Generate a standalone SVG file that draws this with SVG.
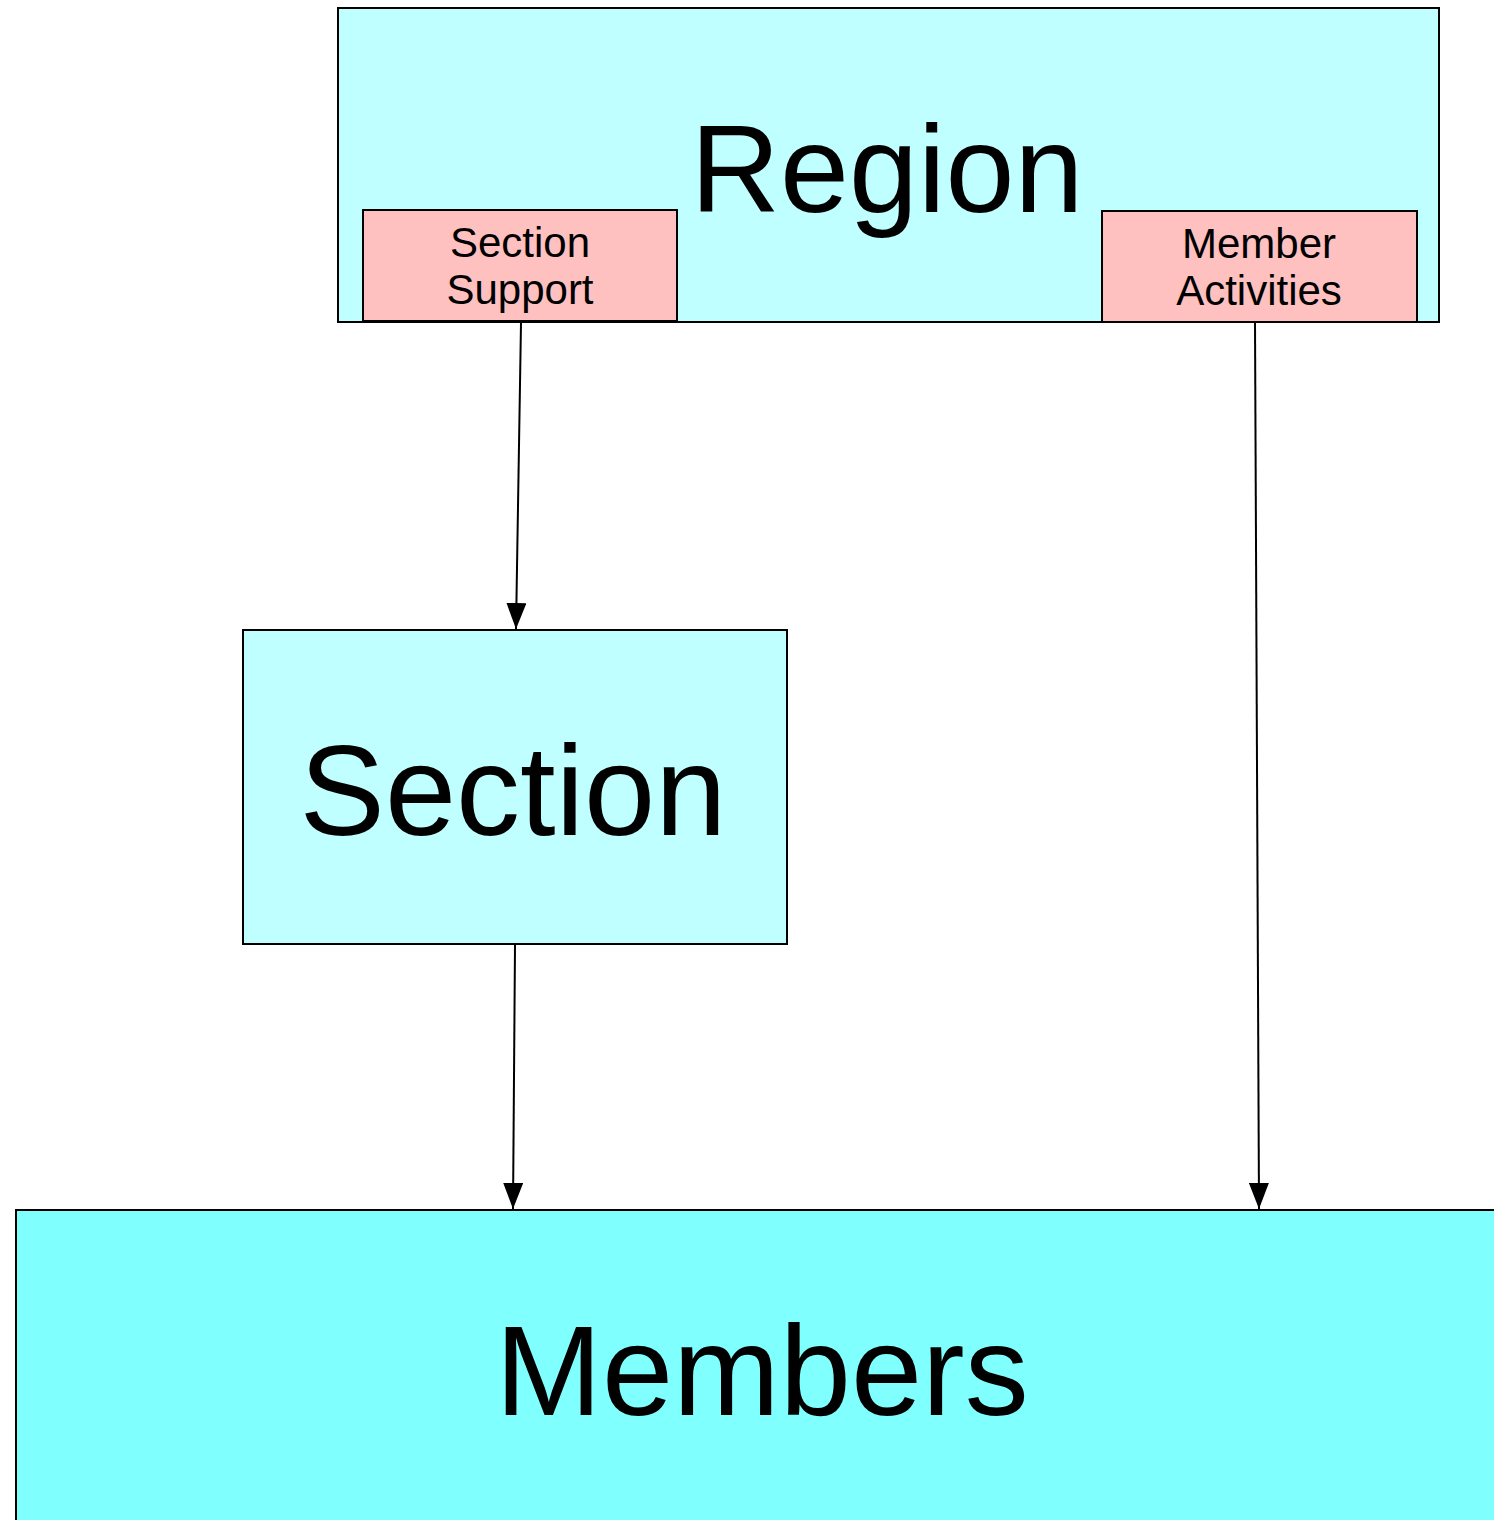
<svg xmlns="http://www.w3.org/2000/svg" width="1494" height="1520" viewBox="0 0 1494 1520">
<defs>
<style>
.box{stroke:#000;stroke-width:2}
.t{font-family:"Liberation Sans",Arial,sans-serif;fill:#000;text-anchor:middle}
.c{stroke:#000;stroke-width:2;fill:none}
</style>
<marker id="ah" markerUnits="userSpaceOnUse" markerWidth="26" markerHeight="20" refX="26" refY="10" orient="auto" viewBox="0 0 26 20">
<path d="M0,0 L26,10 L0,20 Z" fill="#000"/>
</marker>
</defs>
<rect width="1494" height="1520" fill="#fff"/>
<g id="region">
<rect class="box" x="338" y="8" width="1101" height="314" fill="#c0ffff"/>
<text class="t" x="887" y="212" font-size="124">Region</text>
</g>
<g id="section-support">
<rect class="box" x="363" y="210" width="314" height="111" fill="#ffc0c0"/>
<text class="t" x="520" y="257" font-size="42">Section</text>
<text class="t" x="520" y="304" font-size="42">Support</text>
</g>
<g id="member-activities">
<rect class="box" x="1102" y="211" width="315" height="111" fill="#ffc0c0"/>
<text class="t" x="1259" y="258" font-size="42">Member</text>
<text class="t" x="1259" y="305" font-size="42">Activities</text>
</g>
<g id="section">
<rect class="box" x="243" y="630" width="544" height="314" fill="#c0ffff"/>
<text class="t" x="513" y="835" font-size="128">Section</text>
</g>
<g id="members">
<rect class="box" x="16" y="1210" width="1490" height="320" fill="#80ffff"/>
<text class="t" x="762" y="1415" font-size="128">Members</text>
</g>
<g id="connectors">
<line class="c" x1="521" y1="323" x2="516" y2="629" marker-end="url(#ah)"/>
<line class="c" x1="515" y1="945" x2="513" y2="1209" marker-end="url(#ah)"/>
<line class="c" x1="1255" y1="323" x2="1259" y2="1209" marker-end="url(#ah)"/>
</g>
</svg>
